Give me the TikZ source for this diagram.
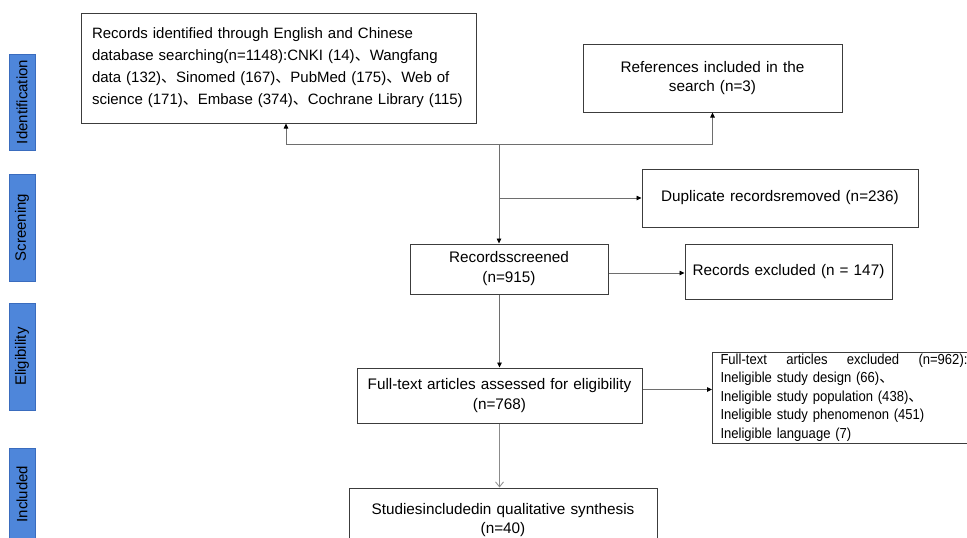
\documentclass[tikz,border=0pt]{standalone}
\usepackage{fontspec}
\setmainfont{Liberation Sans}
\newfontfamily\narrowsans[FakeStretch=0.9]{Liberation Sans}
\newfontfamily\cjk{Noto Sans CJK SC}
\newcommand{\dunhao}{{\cjk 、}}
\usetikzlibrary{arrows.meta,positioning}
\definecolor{barblue}{RGB}{78,134,218}
\definecolor{barline}{RGB}{58,108,190}
\definecolor{boxline}{RGB}{60,60,60}
\definecolor{flowline}{RGB}{110,110,110}
\tikzset{
  box/.style={draw=boxline,line width=1pt,inner sep=0pt,align=center,
    font=\fontsize{15.3}{20}\selectfont},
  bar/.style={draw=barline,fill=barblue,rotate=90,inner sep=0pt,minimum height=26pt,
    font=\fontsize{15}{18}\selectfont},
  flow/.style={draw=flowline,line width=0.8pt,-{Triangle[length=5pt,width=4.5pt,black]}},
  openflow/.style={draw=flowline!80,line width=0.8pt,-{Straight Barb[length=5pt,width=8pt]}}
}
\begin{document}
\begin{tikzpicture}[x=1pt,y=-1pt]
  \useasboundingbox (0,0) rectangle (967,538);
  \fill[white] (0,0) rectangle (967,538);
  \clip (0,0) rectangle (967,538);
  \node[bar,minimum width=96pt] (ident) at (22,102) {Identification};
  \node[bar,minimum width=107pt] (screen) at (22,227.5) {Screening};
  \node[bar,minimum width=107pt] (elig) at (22,356.5) {Eligibility};
  \node[bar,minimum width=92pt] (incl) at (22,494) {Included};
  \node[box,align=left,minimum width=395pt,minimum height=110pt,text width=373pt,
    font=\fontsize{15}{22}\selectfont] (recid) at (278.5,68)
    {Records identified through English and Chinese\\
     database searching(n=1148):CNKI (14)\dunhao Wangfang\\
     data (132)\dunhao Sinomed (167)\dunhao PubMed (175)\dunhao Web of\\
     science (171)\dunhao Embase (374)\dunhao Cochrane Library (115)};
  \node[box,minimum width=259pt,minimum height=68pt,text width=240pt,
    font=\fontsize{15.3}{19}\selectfont] (refs) at (712.5,78)
    {References included in the\\search (n=3)};
  \node[box,minimum width=276pt,minimum height=58pt,text width=260pt] (dup) at (780,198)
    {Duplicate recordsremoved (n=236)};
  \node[box,minimum width=198pt,minimum height=50pt,text width=180pt] (screened) at (509,269)
    {Recordsscreened\\(n=915)};
  \node[box,minimum width=207pt,minimum height=55pt,text width=200pt] (excl) at (788.5,271.5)
    {Records excluded (n = 147)\\[3pt]};
  \node[box,minimum width=285pt,minimum height=55pt,text width=284pt] (fulltext) at (499.5,395.5)
    {Full-text articles assessed for eligibility\\(n=768)};
  \node[box,anchor=west,align=left,inner xsep=8pt,text width=274pt,minimum height=91pt,
    font=\narrowsans\fontsize{14.5}{18.5}\selectfont] (ftexcl) at (712,397.5)
    {\makebox[247pt][l]{Full-text\hfill articles\hfill excluded\hfill (n=962):}\\
     Ineligible study design (66)\dunhao\\
     Ineligible study population (438)\dunhao\\
     Ineligible study phenomenon (451)\\
     Ineligible language (7)};
  \node[box,minimum width=308pt,minimum height=64pt,text width=290pt,
    font=\fontsize{15.3}{19}\selectfont] (studies) at (503,520)
    {Studiesincludedin qualitative synthesis\\(n=40)};
  \coordinate (merge) at (499,144);
  \draw[flow] (merge) -| ([xshift=7.5pt]recid.south);
  \draw[flow] (merge) -| (refs.south);
  \draw[flow] (merge) -- (merge |- screened.north);
  \draw[flow] (merge |- dup.west) -- (dup.west);
  \draw[flow] ([yshift=-4pt]screened.east) -- ([yshift=-4pt]screened.east -| excl.west);
  \draw[flow] (fulltext.north |- screened.south) -- (fulltext.north);
  \draw[flow] ([yshift=6pt]fulltext.east) -- ([yshift=6pt]fulltext.east -| ftexcl.west);
  \draw[openflow] (fulltext.south) -- (fulltext.south |- studies.north);
\end{tikzpicture}
\end{document}
